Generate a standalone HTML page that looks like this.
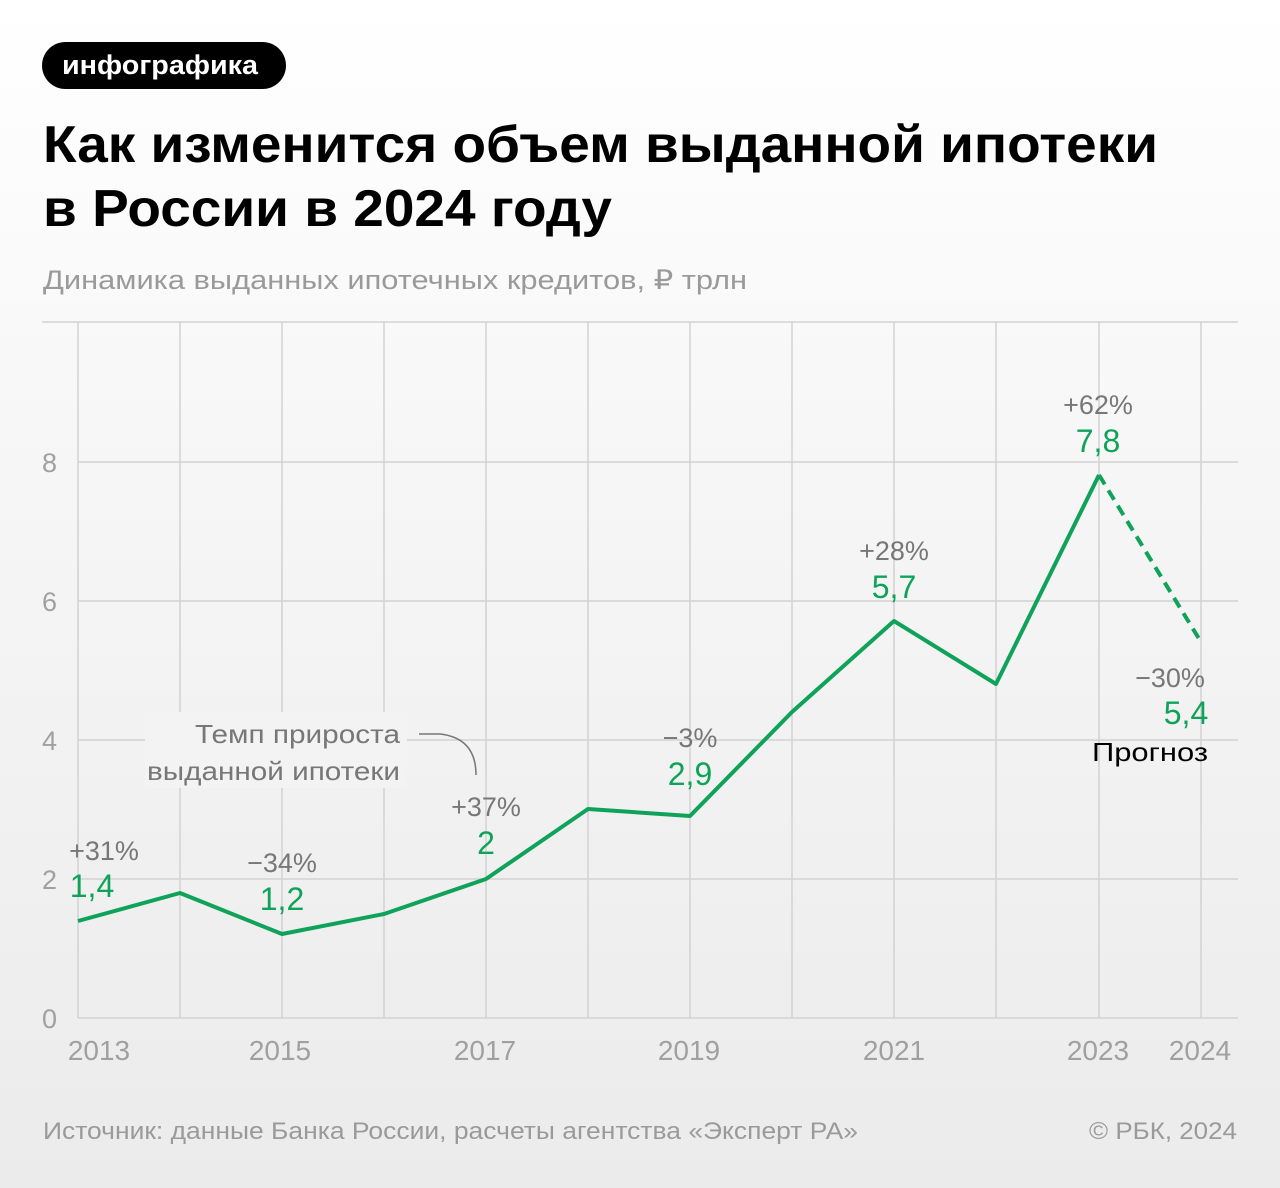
<!DOCTYPE html>
<html><head><meta charset="utf-8"><style>
html,body{margin:0;padding:0}
body{width:1280px;height:1188px;background:linear-gradient(#ffffff 0%,#f6f6f6 40%,#ebebeb 100%);font-family:"Liberation Sans",sans-serif;position:relative;overflow:hidden}
</style></head><body>
<svg width="1280" height="1188" style="position:absolute;left:0;top:0" font-family="Liberation Sans, sans-serif">
<rect x="42" y="42" width="244" height="47" rx="23.5" fill="#000"/>
<text x="62" y="74" font-size="27" font-weight="bold" fill="#fff" textLength="196" lengthAdjust="spacingAndGlyphs">инфографика</text>
<text x="43" y="162" font-size="52" font-weight="bold" fill="#000" textLength="1115" lengthAdjust="spacingAndGlyphs">Как изменится объем выданной ипотеки</text>
<text x="43" y="226" font-size="52" font-weight="bold" fill="#000" textLength="569" lengthAdjust="spacingAndGlyphs">в России в 2024 году</text>
<text x="43" y="289" font-size="27" fill="#9a9a9a" textLength="704" lengthAdjust="spacingAndGlyphs">Динамика выданных ипотечных кредитов, ₽ трлн</text>
<g stroke="#d2d2d2" stroke-width="1.5">
<line x1="42" y1="322" x2="1238" y2="322"/>
<line x1="78" y1="462" x2="1238" y2="462"/>
<line x1="78" y1="601" x2="1238" y2="601"/>
<line x1="78" y1="740" x2="1238" y2="740"/>
<line x1="78" y1="879" x2="1238" y2="879"/>
<line x1="78" y1="1018" x2="1238" y2="1018"/>
<line x1="78" y1="322" x2="78" y2="1018"/><line x1="180" y1="322" x2="180" y2="1018"/><line x1="282" y1="322" x2="282" y2="1018"/><line x1="384" y1="322" x2="384" y2="1018"/><line x1="486" y1="322" x2="486" y2="1018"/><line x1="588" y1="322" x2="588" y2="1018"/><line x1="690" y1="322" x2="690" y2="1018"/><line x1="792" y1="322" x2="792" y2="1018"/><line x1="894" y1="322" x2="894" y2="1018"/><line x1="996" y1="322" x2="996" y2="1018"/><line x1="1099" y1="322" x2="1099" y2="1018"/><line x1="1201" y1="322" x2="1201" y2="1018"/>
</g>
<g font-size="27" fill="#a0a0a0">
<text x="42" y="472">8</text><text x="42" y="611">6</text><text x="42" y="750">4</text><text x="42" y="889">2</text><text x="42" y="1028">0</text>
</g>
<g font-size="28" fill="#a0a0a0" text-anchor="middle">
<text x="99" y="1060">2013</text><text x="280" y="1060">2015</text><text x="485" y="1060">2017</text><text x="689" y="1060">2019</text><text x="894" y="1060">2021</text><text x="1098" y="1060">2023</text><text x="1200" y="1060">2024</text>
</g>
<g fill="#f3f3f3">
<rect x="145" y="712" width="262" height="76"/>
</g>
<polyline points="78,921 180,893 282,934 384,914 486,879 588,809 690,816 792,712 894,621 996,684 1099,475" fill="none" stroke="#0fa35a" stroke-width="4" stroke-linejoin="round"/>
<line x1="1099" y1="475" x2="1201" y2="642" stroke="#0fa35a" stroke-width="4" stroke-dasharray="11,7"/>
<g font-size="26" fill="#777">
<text x="195" y="743" textLength="205" lengthAdjust="spacingAndGlyphs">Темп прироста</text>
<text x="147" y="780" textLength="253" lengthAdjust="spacingAndGlyphs">выданной ипотеки</text>
</g>
<path d="M419,734 L440,734 Q476,738 476,775" fill="none" stroke="#777" stroke-width="1.5"/>
<g font-size="27" fill="#777" text-anchor="middle">
<text x="104" y="860">+31%</text><text x="282" y="872">−34%</text><text x="486" y="816">+37%</text><text x="690" y="747">−3%</text><text x="894" y="560">+28%</text><text x="1098" y="414">+62%</text><text x="1170" y="687">−30%</text>
</g>
<g font-size="32" fill="#0fa35a" text-anchor="middle">
<text x="92" y="897">1,4</text><text x="282" y="910">1,2</text><text x="486" y="854">2</text><text x="690" y="785">2,9</text><text x="894" y="598">5,7</text><text x="1098" y="452">7,8</text><text x="1186" y="724">5,4</text>
</g>
<text x="1092" y="761" font-size="26" fill="#000" textLength="116" lengthAdjust="spacingAndGlyphs">Прогноз</text>
<text x="43" y="1139" font-size="24" fill="#9a9a9a" textLength="815" lengthAdjust="spacingAndGlyphs">Источник: данные Банка России, расчеты агентства «Эксперт РА»</text>
<text x="1089" y="1139" font-size="24" fill="#9a9a9a" textLength="148" lengthAdjust="spacingAndGlyphs">© РБК, 2024</text>
</svg>
</body></html>
